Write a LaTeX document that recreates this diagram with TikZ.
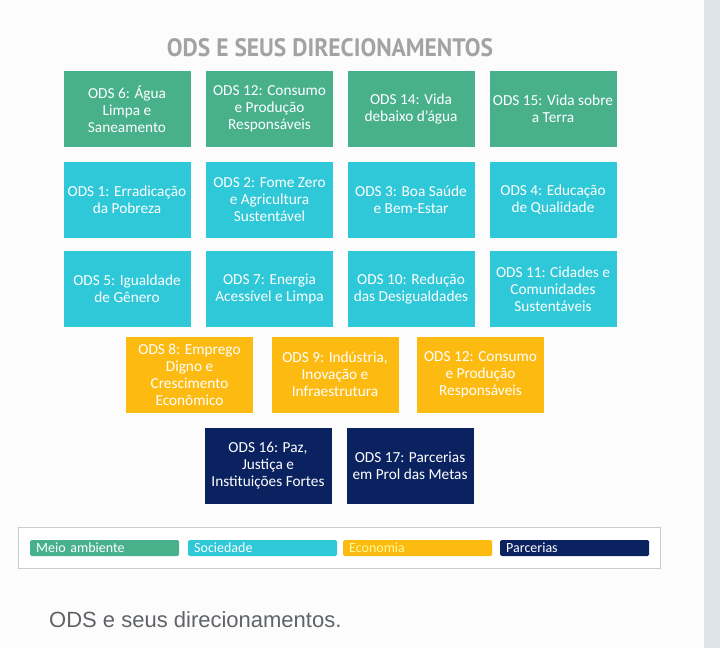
\documentclass[tikz,border=0pt]{standalone}
\usepackage{fontspec}
\setmainfont{Carlito}
\newfontfamily\titlefont{PT Sans Bold}
\newfontfamily\capfont{Liberation Sans}
\definecolor{meio}{HTML}{48B18C}
\definecolor{soc}{HTML}{2EC8D8}
\definecolor{eco}{HTML}{FDBB12}
\definecolor{parc}{HTML}{0B2260}
\definecolor{titlegray}{HTML}{A3A3A3}
\definecolor{capgray}{HTML}{5F6368}
\definecolor{strip}{HTML}{DFE4EA}
\begin{document}
\begin{tikzpicture}[x=1pt,y=-1pt,
  odsbox/.style={minimum width=127pt,minimum height=76pt,inner sep=0pt,text=white,align=center,
    font=\fontsize{15.3}{17}\selectfont},
  green/.style={odsbox,fill=meio},
  cyan/.style={odsbox,fill=soc},
  orange/.style={odsbox,fill=eco},
  navy/.style={odsbox,fill=parc},
  legbar/.style={minimum width=149pt,minimum height=16pt,inner xsep=6pt,inner ysep=0pt,rounded corners=1.5pt,anchor=west,
    text width=137pt,align=left,font=\fontsize{14}{15}\selectfont}]
\fill[white!99!black] (0,0) rectangle (720,648);
\fill[strip] (704,0) rectangle (720,648);
\useasboundingbox (0,0) rectangle (720,648);
\node[text=titlegray] (title) at (330,48) {\resizebox{326pt}{18pt}{\titlefont ODS E SEUS DIRECIONAMENTOS}};
% row 1
\node[green] (g6) at (127,109) {ODS 6: Água\\Limpa e\\Saneamento};
\node[green] (g12) at (269.5,109) {ODS 12: Consumo\\e Produção\\Responsáveis};
\node[green] (g14) at (411,109) {ODS 14: Vida\\debaixo d'água};
\node[green] (g15) at (553,109) {ODS 15: Vida sobre\\a Terra};
% row 2
\node[cyan] (c1) at (127,199.5) {ODS 1: Erradicação\\da Pobreza};
\node[cyan] (c2) at (269.5,199.5) {ODS 2: Fome Zero\\e Agricultura\\Sustentável};
\node[cyan] (c3) at (411,199.5) {ODS 3: Boa Saúde\\e Bem-Estar};
\node[cyan] (c4) at (553,199.5) {ODS 4: Educação\\de Qualidade};
% row 3
\node[cyan] (c5) at (127,289) {ODS 5: Igualdade\\de Gênero};
\node[cyan] (c7) at (269.5,289) {ODS 7: Energia\\Acessível e Limpa};
\node[cyan] (c10) at (411,289) {ODS 10: Redução\\das Desigualdades};
\node[cyan] (c11) at (553,289) {ODS 11: Cidades e\\Comunidades\\Sustentáveis};
% row 4
\node[orange] (o8) at (189.5,374.5) {ODS 8: Emprego\\Digno e\\Crescimento\\Econômico};
\node[orange] (o9) at (335,374.5) {ODS 9: Indústria,\\Inovação e\\Infraestrutura};
\node[orange] (o12) at (480.5,374.5) {ODS 12: Consumo\\e Produção\\Responsáveis};
% row 5
\node[navy] (n16) at (268,466) {ODS 16: Paz,\\Justiça e\\Instituições Fortes};
\node[navy] (n17) at (410,466) {ODS 17: Parcerias\\em Prol das Metas};
% legend
\node[draw=black!20,fill=white,line width=0.6pt,minimum width=642pt,minimum height=41pt,inner sep=0pt] (legend) at (339,547.5) {};
\node[legbar,fill=meio,text=white] (lm) at (30,548) {Meio ambiente};
\node[legbar,fill=soc,text=white] (ls) at (188,548) {Sociedade};
\node[legbar,fill=eco,text=yellow!40] (le) at (343,548) {Economia};
\node[legbar,fill=parc,text=white] (lp) at (500,548) {Parcerias};
% caption
\node[anchor=west,text=capgray,font=\capfont\fontsize{22}{26}\selectfont,inner sep=0pt] (cap) at (49,620) {ODS e seus direcionamentos.};
\end{tikzpicture}
\end{document}
